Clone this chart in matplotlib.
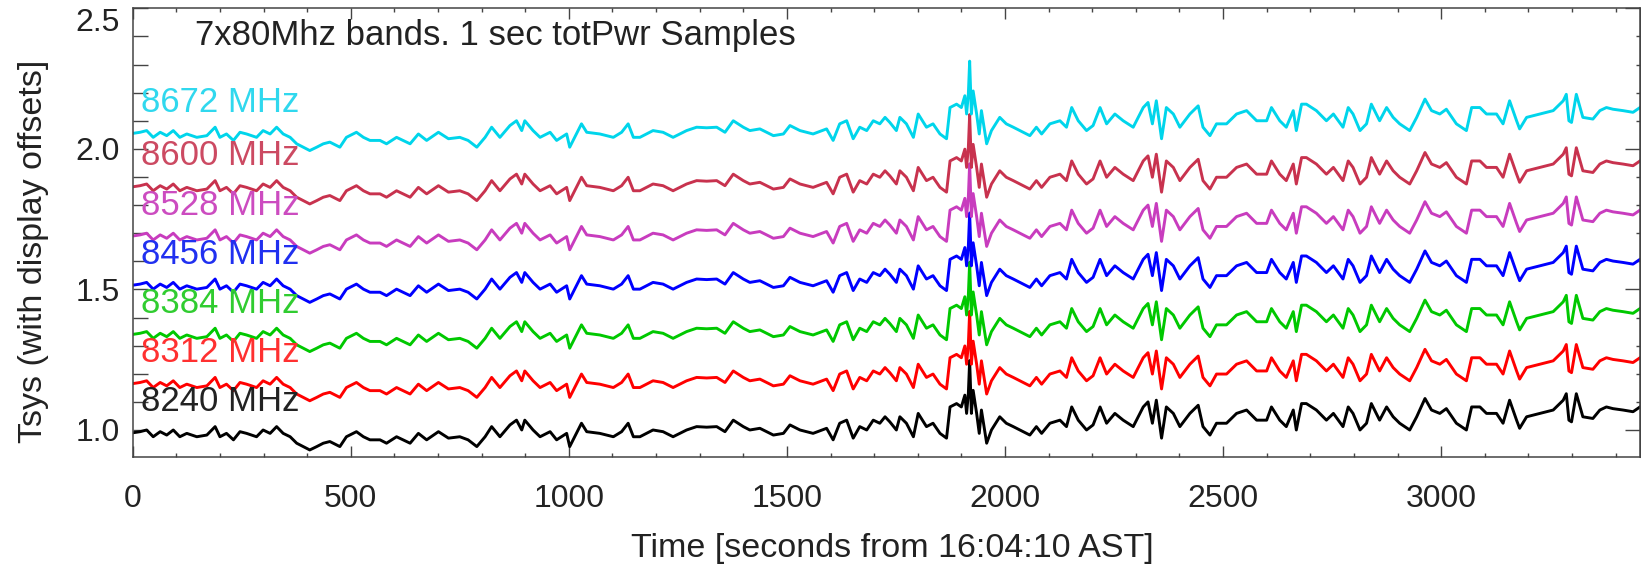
import numpy as np
import matplotlib
matplotlib.use('Agg')
import matplotlib.pyplot as plt
from matplotlib.ticker import MultipleLocator, FixedLocator

plt.rcParams['font.family'] = ['Liberation Sans', 'DejaVu Sans']

# 8240 MHz trace (seconds, Tsys); the other bands track it
t_sec = [0, 17, 32, 47, 63, 78, 93, 108, 124, 147, 170, 189, 200, 215, 231, 246, 261, 284, 299, 315,
         330, 345, 361, 376, 391, 406, 422, 437, 452, 475, 490, 513, 529, 544, 567, 582, 605, 636, 655, 674,
         701, 724, 750, 769, 789, 808, 823, 842, 865, 880, 892, 899, 918, 934, 957, 972, 995, 1002, 1029, 1041,
         1071, 1102, 1121, 1136, 1148, 1163, 1193, 1216, 1239, 1270, 1293, 1316, 1339, 1358, 1377, 1400, 1415, 1438, 1469, 1492,
         1507, 1530, 1560, 1591, 1606, 1621, 1637, 1652, 1667, 1683, 1698, 1713, 1725, 1736, 1751, 1759, 1774, 1790, 1801, 1820,
         1835, 1851, 1866, 1874, 1889, 1900, 1908, 1912, 1916, 1919, 1923, 1927, 1935, 1941, 1946, 1958, 1969, 1988, 2003, 2019,
         2034, 2057, 2072, 2084, 2103, 2126, 2141, 2153, 2168, 2187, 2202, 2218, 2233, 2252, 2271, 2294, 2317, 2328, 2338, 2347,
         2359, 2370, 2386, 2401, 2424, 2443, 2454, 2470, 2485, 2508, 2531, 2554, 2577, 2600, 2611, 2630, 2645, 2661, 2668, 2680,
         2691, 2714, 2737, 2753, 2775, 2787, 2798, 2814, 2829, 2840, 2859, 2875, 2890, 2905, 2928, 2944, 2963, 2978, 2997, 3012,
         3035, 3058, 3070, 3089, 3104, 3127, 3142, 3157, 3173, 3180, 3196, 3226, 3257, 3280, 3287, 3293, 3299, 3310, 3325, 3348,
         3364, 3379, 3394, 3417, 3440, 3456]
tsys_base = [0.990, 0.994, 1.000, 0.976, 0.994, 0.982, 1.000, 0.976, 0.988, 0.976, 0.982, 1.012, 0.976, 0.988, 0.965, 0.994, 0.988, 0.976, 1.000, 0.988,
             1.012, 0.988, 0.976, 0.953, 0.941, 0.929, 0.941, 0.953, 0.959, 0.941, 0.976, 0.994, 0.976, 0.965, 0.965, 0.953, 0.976, 0.953, 0.988, 0.965,
             0.994, 0.971, 0.976, 0.965, 0.941, 0.976, 1.012, 0.976, 1.018, 1.035, 1.000, 1.035, 1.000, 0.976, 0.994, 0.965, 0.988, 0.941, 1.024, 0.994,
             0.988, 0.976, 0.994, 1.024, 0.976, 0.976, 1.000, 0.994, 0.976, 1.000, 1.012, 1.010, 1.012, 0.994, 1.035, 1.012, 1.000, 1.006, 0.982, 0.988,
             1.018, 1.000, 0.988, 1.006, 0.965, 1.024, 1.035, 0.971, 1.012, 1.000, 1.035, 1.024, 1.047, 1.029, 1.000, 1.047, 1.024, 0.976, 1.059, 1.012,
             1.024, 0.988, 0.971, 1.082, 1.094, 1.082, 1.124, 1.059, 1.129, 1.247, 1.059, 1.141, 1.059, 0.988, 1.071, 0.953, 1.000, 1.047, 1.024, 1.012,
             1.000, 0.982, 1.012, 0.988, 1.024, 1.035, 1.012, 1.082, 1.035, 1.000, 1.018, 1.082, 1.024, 1.059, 1.035, 1.012, 1.082, 1.100, 1.024, 1.106,
             0.971, 1.082, 1.059, 1.012, 1.059, 1.088, 1.012, 0.982, 1.024, 1.024, 1.059, 1.071, 1.035, 1.035, 1.082, 1.035, 1.012, 1.071, 1.000, 1.094,
             1.094, 1.071, 1.035, 1.059, 1.012, 1.082, 1.059, 1.000, 1.024, 1.094, 1.035, 1.082, 1.047, 1.024, 1.000, 1.047, 1.112, 1.071, 1.059, 1.076,
             1.024, 1.000, 1.082, 1.082, 1.059, 1.059, 1.024, 1.106, 1.035, 1.006, 1.047, 1.059, 1.071, 1.106, 1.129, 1.035, 1.029, 1.129, 1.047, 1.041,
             1.071, 1.082, 1.076, 1.071, 1.065, 1.082]

bands = ['8240 MHz', '8312 MHz', '8384 MHz', '8456 MHz', '8528 MHz', '8600 MHz', '8672 MHz']
offsets = [0.0, 0.175, 0.35, 0.525, 0.70, 0.875, 1.065]
line_colors = ['#000000', '#FF0000', '#00C800', '#0000FF', '#C83CBE', '#C8324E', '#00D5EB']
label_colors = ['#222222', '#FF3030', '#30CC30', '#2030F0', '#CC4CC0', '#CC4A62', '#30D8EE']

W, H = 1641, 569
fig = plt.figure(figsize=(W / 100, H / 100), dpi=100)
# axes box in pixels: left 133, right 1640, top 8, bottom 457
ax = fig.add_axes([132.7 / W, (H - 456.7) / H, (1640 - 132.7) / W, 448.4 / H])

t = np.array(t_sec)
base = np.array(tsys_base)
for name, off, lc, tc in zip(bands, offsets, line_colors, label_colors):
    ax.plot(t, base + off, color=lc, lw=2.1)
    ax.text(20, 1.10 + off, name, color=tc, fontsize=25, va='center', ha='left')

ax.set_xlim(0, 3456)
ax.set_ylim(0.905, 2.5)

spine_c = '#444444'
for s in ax.spines.values():
    s.set_color(spine_c)
    s.set_linewidth(1.1)

ax.xaxis.set_major_locator(MultipleLocator(500))
ax.xaxis.set_minor_locator(MultipleLocator(100))
ax.yaxis.set_major_locator(FixedLocator([1.0, 1.5, 2.0, 2.5]))
ax.yaxis.set_minor_locator(MultipleLocator(0.1))

ax.tick_params(axis='x', which='major', direction='in', length=8, width=1, color=spine_c,
               top=True, labelsize=23, labelcolor='#222222', pad=20)
ax.tick_params(axis='x', which='minor', direction='in', length=3, width=1, color=spine_c, top=True)
ax.tick_params(axis='y', which='both', direction='in', length=10.8, width=1, color=spine_c,
               labelsize=23, labelcolor='#222222', pad=9)

# right side: long majors, short minors, no labels
sec = ax.secondary_yaxis('right')
sec.yaxis.set_major_locator(FixedLocator([1.0, 1.5, 2.0, 2.5]))
sec.yaxis.set_minor_locator(MultipleLocator(0.1))
sec.tick_params(which='major', direction='in', length=10.8, width=1, color=spine_c, labelright=False)
sec.tick_params(which='minor', direction='in', length=3, width=1, color=spine_c)
sec.spines['right'].set_color(spine_c)

ylabels = ax.get_yticklabels()
ylabels[-1].set_verticalalignment('top')

fig.text(195 / W, 1 - 35 / H, '7x80Mhz bands. 1 sec totPwr Samples', fontsize=25,
         color='#222222', ha='left', va='center')
fig.text(892 / W, 1 - 549 / H, 'Time [seconds from 16:04:10 AST]', fontsize=24.5,
         color='#222222', ha='center', va='center')
fig.text(34 / W, 1 - 251 / H, 'Tsys (with display offsets]', fontsize=24.5,
         color='#222222', ha='center', va='center', rotation=90)

fig.savefig('out.png', dpi=100)
